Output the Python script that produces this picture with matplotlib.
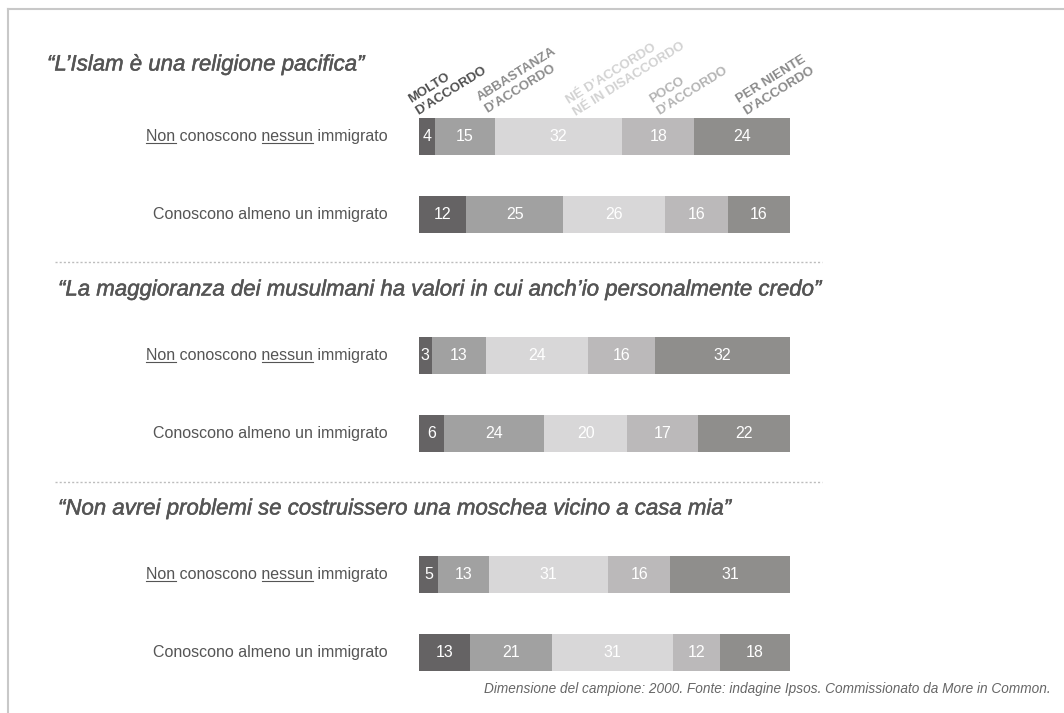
import matplotlib
matplotlib.use('Agg')
import matplotlib.pyplot as plt
from matplotlib.lines import Line2D
import matplotlib.patheffects as pe
import numpy as np

W, H = 1064, 713
plt.rcParams['font.family'] = ['Liberation Sans', 'DejaVu Sans']

# ---------------- data ----------------
questions = [
    "“L’Islam è una religione pacifica”",
    "“La maggioranza dei musulmani ha valori in cui anch’io personalmente credo”",
    "“Non avrei problemi se costruissero una moschea vicino a casa mia”",
]
groups = ["Non conoscono nessun immigrato", "Conoscono almeno un immigrato"]
categories = ["MOLTO\nD’ACCORDO", "ABBASTANZA\nD’ACCORDO",
              "NÉ D’ACCORDO\nNÉ IN DISACCORDO", "POCO\nD’ACCORDO",
              "PER NIENTE\nD’ACCORDO"]
# rows: Q1-non, Q1-conoscono, Q2-non, Q2-conoscono, Q3-non, Q3-conoscono
molto_d_accordo = [4, 12, 3, 6, 5, 13]
abbastanza_d_accordo = [15, 25, 13, 24, 13, 21]
ne_ne = [32, 26, 24, 20, 31, 31]
poco_d_accordo = [18, 16, 16, 17, 16, 12]
per_niente_d_accordo = [24, 16, 32, 22, 31, 18]
footer = "Dimensione del campione: 2000. Fonte: indagine Ipsos. Commissionato da More in Common."

series = [molto_d_accordo, abbastanza_d_accordo, ne_ne, poco_d_accordo, per_niente_d_accordo]
colors = ['#656364', '#a1a1a1', '#d8d7d8', '#bbb9ba', '#8f8e8c']
header_colors = ['#4f4f4f', '#8c8c8c', '#d2d2d2', '#b4b4b4', '#8a8a8a']
text_color = '#555555'

# ---------------- figure ----------------
fig = plt.figure(figsize=(W / 100, H / 100), dpi=100)
fig.patch.set_facecolor('white')

bar_left_px, bar_right_px = 419, 790
ax = fig.add_axes([bar_left_px / W, 0, (bar_right_px - bar_left_px) / W, 1])
ax.set_xlim(0, 100)
unit = 78.0        # px per row unit
first_center = 136.0
ax.set_ylim((H - first_center) / unit, -first_center / unit)
ax.axis('off')

group_step = 2.81
n_rows = len(molto_d_accordo)
ys = np.array([(i // 2) * group_step + (i % 2) for i in range(n_rows)])
vals = np.array(series, dtype=float)          # shape (5, 6)
totals = vals.sum(axis=0)
widths = vals / totals * 100
lefts = np.vstack([np.zeros(n_rows), np.cumsum(widths, axis=0)[:-1]])

bar_h = 37 / unit
for k in range(len(series)):
    ax.barh(ys, widths[k], left=lefts[k], height=bar_h, color=colors[k],
            edgecolor='none', linewidth=0)
    for i in range(n_rows):
        ax.text(lefts[k][i] + widths[k][i] / 2, ys[i], f"{int(vals[k][i])}",
                ha='center', va='center', color='white', fontsize=11.5)

# row labels
label_x = (388 - bar_left_px) / ((bar_right_px - bar_left_px) / 100)
row_texts = []
for i in range(n_rows):
    t = ax.text(label_x, ys[i], groups[i % 2], ha='right', va='center',
                color=text_color, fontsize=11.5, clip_on=False)
    row_texts.append((t, i % 2))

def px(x, y):
    return x / W, 1 - y / H

# question titles
title_pos = [(47, 65), (58, 290), (58, 509)]
for q, (x, y) in zip(questions, title_pos):
    fig.text(*px(x, y), q, ha='left', va='center', fontsize=16,
             style='italic', color=text_color,
             path_effects=[pe.withStroke(linewidth=0.35, foreground=text_color)])

# header category labels (rotated)
header_pos = [(417, 113), (486, 111), (575, 114), (658, 113), (745, 113)]
for lab, c, (x, y) in zip(categories, header_colors, header_pos):
    fig.text(*px(x, y), lab, ha='left', va='baseline', rotation=32,
             rotation_mode='anchor', multialignment='left', fontsize=9.5,
             fontweight='bold', color=c, linespacing=1.3)

# dotted separators
for y in [262, 482]:
    fig.add_artist(Line2D([55 / W, 822 / W], [1 - y / H] * 2, transform=fig.transFigure,
                          color='#bdbdbd', linewidth=1.0, linestyle=(0, (1.5, 1.5))))

# frame (top + left)
fig.add_artist(Line2D([8 / W, 1], [1 - 9 / H] * 2, transform=fig.transFigure,
                      color='#c8c8c8', linewidth=1.5))
fig.add_artist(Line2D([8 / W, 8 / W], [1 - 9 / H, 0], transform=fig.transFigure,
                      color='#c8c8c8', linewidth=1.5))

# footer
fig.text(*px(1051, 689), footer, ha='right', va='center', fontsize=9.8,
         style='italic', color='#666666')

# underlines for "Non" and "nessun"
fig.canvas.draw()
r = fig.canvas.get_renderer()
inv = fig.transFigure.inverted()
for t, g in row_texts:
    if g != 0:
        continue
    prop = t.get_fontproperties()
    bb = t.get_window_extent(r)
    full = t.get_text()
    _, _, d = r.get_text_width_height_descent(full, prop, ismath=False)
    base = bb.y0 + d
    uy = base - 2.5

    def w(s):
        ww, _, _ = r.get_text_width_height_descent(s, prop, ismath=False)
        return ww

    segs = [(0.0, w("Non")),
            (w("Non conoscono nessun") - w("nessun"), w("Non conoscono nessun"))]
    for a, b in segs:
        p0 = inv.transform((bb.x0 + a, uy))
        p1 = inv.transform((bb.x0 + b, uy))
        fig.add_artist(Line2D([p0[0], p1[0]], [p0[1], p1[1]], transform=fig.transFigure,
                              color=text_color, linewidth=0.8))

fig.savefig('out.png', dpi=100)
